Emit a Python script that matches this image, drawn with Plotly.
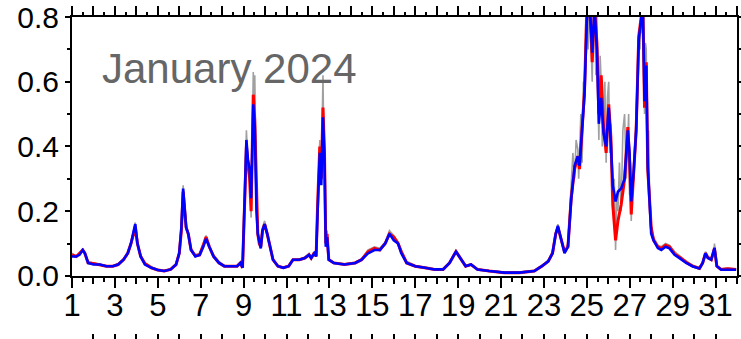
import plotly.graph_objects as go

# Time in days of January 2024 (1 = 00:00 on Jan 1, 32 = 00:00 on Feb 1)
t = [1.0, 1.2, 1.35, 1.5, 1.6, 1.75, 2.0, 2.3, 2.6, 2.9,
     3.15, 3.4, 3.6, 3.75, 3.88, 3.95, 4.05, 4.2, 4.4, 4.7,
     5.0, 5.3, 5.6, 5.85, 6.0, 6.1, 6.18, 6.25, 6.32, 6.42,
     6.55, 6.75, 6.95, 7.12, 7.25, 7.4, 7.6, 7.85, 8.1, 8.4,
     8.7, 8.85, 8.95, 9.06, 9.13, 9.2, 9.28, 9.35, 9.45, 9.52,
     9.6, 9.66, 9.73, 9.8, 9.88, 9.98, 10.1, 10.22, 10.37, 10.6,
     10.85, 11.1, 11.3, 11.6, 11.85, 12.05, 12.15, 12.3, 12.38, 12.45,
     12.55, 12.62, 12.7, 12.77, 12.83, 12.89, 12.97, 13.2, 13.7, 14.2,
     14.5, 14.8, 15.1, 15.35, 15.6, 15.8, 16.0, 16.2, 16.35, 16.6,
     17.0, 17.45, 17.9, 18.3, 18.6, 18.9, 19.15, 19.35, 19.6, 19.9,
     20.45, 21.15, 21.85, 22.55, 22.9, 23.2, 23.4, 23.55, 23.65, 23.8,
     23.96, 24.12, 24.27, 24.43, 24.58, 24.66, 24.78, 24.89, 25.0, 25.12,
     25.25, 25.36, 25.47, 25.56, 25.67, 25.78, 25.9, 26.02, 26.12, 26.21,
     26.34, 26.45, 26.6, 26.76, 26.91, 26.99, 27.07, 27.18, 27.3, 27.42,
     27.53, 27.61, 27.69, 27.77, 27.84, 27.92, 28.0, 28.11, 28.31, 28.47,
     28.67, 28.85, 29.09, 29.32, 29.63, 29.94, 30.25, 30.4, 30.53, 30.64,
     30.8, 30.95, 31.06, 31.26, 31.57, 31.96]

blue = [0.06, 0.06, 0.065, 0.08, 0.07, 0.04, 0.035, 0.035, 0.03, 0.03,
        0.035, 0.05, 0.07, 0.1, 0.14, 0.16, 0.1, 0.06, 0.035, 0.025,
        0.018, 0.015, 0.02, 0.035, 0.07, 0.15, 0.27, 0.2, 0.15, 0.13,
        0.08, 0.06, 0.065, 0.09, 0.115, 0.09, 0.06, 0.04, 0.03, 0.03,
        0.03, 0.04, 0.025, 0.26, 0.42, 0.36, 0.33, 0.24, 0.53, 0.46,
        0.2, 0.13, 0.1, 0.085, 0.14, 0.16, 0.13, 0.09, 0.05, 0.03,
        0.025, 0.03, 0.05, 0.05, 0.055, 0.065, 0.055, 0.07, 0.06, 0.2,
        0.38, 0.28, 0.49, 0.36, 0.09, 0.12, 0.05, 0.04, 0.035, 0.04,
        0.05, 0.07, 0.08, 0.08, 0.1, 0.13, 0.11, 0.1, 0.07, 0.04,
        0.03, 0.025, 0.02, 0.02, 0.04, 0.075, 0.05, 0.03, 0.035, 0.02,
        0.015, 0.01, 0.01, 0.015, 0.03, 0.045, 0.07, 0.13, 0.155, 0.11,
        0.07, 0.09, 0.235, 0.34, 0.37, 0.34, 0.46, 0.56, 0.79, 0.86,
        0.69, 0.83, 0.7, 0.47, 0.55, 0.44, 0.4, 0.52, 0.41, 0.28,
        0.23, 0.26, 0.27, 0.3, 0.45, 0.38, 0.23, 0.32, 0.45, 0.73,
        0.79, 0.84, 0.54, 0.65, 0.34, 0.24, 0.13, 0.11, 0.086, 0.08,
        0.09, 0.085, 0.065, 0.055, 0.04, 0.029, 0.023, 0.04, 0.07, 0.055,
        0.05, 0.087, 0.03, 0.019, 0.02, 0.019]

red = [0.065, 0.06, 0.07, 0.08, 0.07, 0.04, 0.038, 0.035, 0.03, 0.03,
       0.035, 0.05, 0.07, 0.1, 0.13, 0.15, 0.1, 0.06, 0.038, 0.025,
       0.018, 0.015, 0.02, 0.035, 0.07, 0.14, 0.26, 0.2, 0.15, 0.13,
       0.08, 0.062, 0.065, 0.095, 0.12, 0.09, 0.06, 0.04, 0.03, 0.03,
       0.03, 0.04, 0.025, 0.25, 0.4, 0.35, 0.3, 0.2, 0.56, 0.48,
       0.22, 0.13, 0.1, 0.09, 0.14, 0.16, 0.13, 0.09, 0.05, 0.03,
       0.025, 0.03, 0.05, 0.05, 0.055, 0.065, 0.055, 0.072, 0.06, 0.22,
       0.4, 0.3, 0.52, 0.38, 0.1, 0.13, 0.05, 0.04, 0.035, 0.04,
       0.05, 0.075, 0.085, 0.08, 0.1, 0.13, 0.12, 0.1, 0.075, 0.04,
       0.03, 0.025, 0.02, 0.02, 0.04, 0.075, 0.05, 0.03, 0.035, 0.02,
       0.015, 0.01, 0.01, 0.015, 0.03, 0.045, 0.07, 0.13, 0.15, 0.11,
       0.075, 0.09, 0.24, 0.33, 0.37, 0.33, 0.45, 0.57, 0.82, 0.86,
       0.66, 0.83, 0.72, 0.5, 0.62, 0.46, 0.38, 0.53, 0.43, 0.22,
       0.11, 0.17, 0.22, 0.3, 0.46, 0.36, 0.19, 0.3, 0.45, 0.74,
       0.8, 0.84, 0.52, 0.66, 0.33, 0.25, 0.15, 0.11, 0.09, 0.085,
       0.095, 0.09, 0.068, 0.058, 0.042, 0.03, 0.023, 0.04, 0.07, 0.057,
       0.05, 0.085, 0.03, 0.02, 0.022, 0.02]

# Higher-resolution series, so it has its own time axis
gray_t = [1.0, 1.2, 1.35, 1.5, 1.6, 1.75, 2.0, 2.3, 2.6, 2.9,
          3.15, 3.4, 3.6, 3.75, 3.88, 3.95, 4.05, 4.2, 4.4, 4.7,
          5.0, 5.3, 5.6, 5.85, 6.0, 6.1, 6.18, 6.25, 6.32, 6.42,
          6.55, 6.75, 6.95, 7.12, 7.25, 7.4, 7.6, 7.85, 8.1, 8.4,
          8.7, 8.85, 8.95, 9.06, 9.13, 9.2, 9.28, 9.35, 9.4, 9.45, 9.48, 9.52,
          9.6, 9.66, 9.73, 9.8, 9.88, 9.98, 10.1, 10.22, 10.37, 10.6,
          10.85, 11.1, 11.3, 11.6, 11.85, 12.05, 12.15, 12.3, 12.38, 12.45,
          12.55, 12.62, 12.68, 12.7, 12.74, 12.77, 12.83, 12.89, 12.97, 13.2, 13.7, 14.2,
          14.5, 14.8, 15.1, 15.35, 15.6, 15.8, 16.0, 16.2, 16.35, 16.6,
          17.0, 17.45, 17.9, 18.3, 18.6, 18.9, 19.15, 19.35, 19.6, 19.9,
          20.45, 21.15, 21.85, 22.55, 22.9, 23.2, 23.4, 23.55, 23.65, 23.8,
          23.96, 24.12, 24.27, 24.35, 24.43, 24.5, 24.58, 24.62, 24.66, 24.72,
          24.78, 24.84, 24.89, 24.95, 25.0, 25.06, 25.12, 25.18, 25.25, 25.3,
          25.36, 25.42, 25.47, 25.52, 25.56, 25.62, 25.67, 25.72, 25.78, 25.84,
          25.9, 25.96, 26.02, 26.07, 26.12, 26.17, 26.21, 26.28, 26.34, 26.4,
          26.45, 26.52, 26.6, 26.68, 26.76, 26.84, 26.91, 26.95, 26.99, 27.03,
          27.07, 27.12, 27.18, 27.24, 27.3, 27.36, 27.42, 27.48, 27.53, 27.57,
          27.61, 27.65, 27.69, 27.73, 27.77, 27.8, 27.84, 27.88, 27.92, 28.0,
          28.11, 28.31, 28.47, 28.67, 28.85, 29.09, 29.32, 29.63, 29.94, 30.25,
          30.4, 30.53, 30.64, 30.8, 30.92, 30.95, 31.06, 31.26, 31.57, 31.96]

gray = [0.07, 0.06, 0.07, 0.085, 0.07, 0.045, 0.04, 0.035, 0.032, 0.03,
        0.038, 0.05, 0.075, 0.1, 0.14, 0.165, 0.1, 0.065, 0.04, 0.028,
        0.02, 0.016, 0.022, 0.037, 0.075, 0.15, 0.28, 0.2, 0.16, 0.13,
        0.085, 0.065, 0.07, 0.1, 0.125, 0.09, 0.065, 0.045, 0.033, 0.03,
        0.032, 0.042, 0.025, 0.26, 0.45, 0.35, 0.3, 0.18, 0.4, 0.63, 0.45, 0.62,
        0.22, 0.13, 0.1, 0.09, 0.15, 0.17, 0.13, 0.09, 0.05, 0.032,
        0.027, 0.032, 0.05, 0.052, 0.058, 0.07, 0.058, 0.075, 0.06, 0.22,
        0.42, 0.3, 0.5, 0.62, 0.4, 0.4, 0.1, 0.14, 0.05, 0.042, 0.037, 0.042,
        0.052, 0.08, 0.09, 0.085, 0.105, 0.14, 0.125, 0.105, 0.08, 0.045,
        0.032, 0.027, 0.022, 0.022, 0.042, 0.08, 0.052, 0.032, 0.037, 0.022,
        0.016, 0.012, 0.012, 0.017, 0.032, 0.048, 0.075, 0.13, 0.16, 0.11,
        0.075, 0.1, 0.26, 0.38, 0.3, 0.42, 0.39, 0.3, 0.38, 0.5,
        0.35, 0.6, 0.55, 0.8, 0.82, 0.7, 0.9, 0.75, 0.6, 0.8,
        0.85, 0.62, 0.8, 0.55, 0.42, 0.68, 0.6, 0.4, 0.5, 0.6,
        0.35, 0.55, 0.6, 0.38, 0.47, 0.3, 0.2, 0.3, 0.08, 0.25,
        0.2, 0.35, 0.2, 0.45, 0.5, 0.3, 0.4, 0.5, 0.25, 0.35,
        0.17, 0.28, 0.3, 0.4, 0.46, 0.6, 0.76, 0.7, 0.82, 0.75,
        0.86, 0.6, 0.5, 0.72, 0.7, 0.45, 0.3, 0.45, 0.27, 0.15,
        0.12, 0.095, 0.09, 0.1, 0.095, 0.075, 0.062, 0.046, 0.033, 0.026,
        0.042, 0.075, 0.06, 0.055, 0.07, 0.1, 0.032, 0.022, 0.024, 0.021]

# Tick positions
label_days = list(range(1, 32, 2))
even_days = list(range(2, 33, 2))
all_days = list(range(1, 33))
y_ticks = [0.0, 0.2, 0.4, 0.6, 0.8]

FONT = "Liberation Sans, Arial, sans-serif"
X_RANGE = [1, 32]

fig = go.Figure()
fig.add_trace(go.Scatter(x=gray_t, y=gray, mode="lines",
                         line=dict(color="#a0a0a0", width=1.6), showlegend=False))
fig.add_trace(go.Scatter(x=t, y=red, mode="lines",
                         line=dict(color="#ff0000", width=3), showlegend=False))
fig.add_trace(go.Scatter(x=t, y=blue, mode="lines",
                         line=dict(color="#0000ff", width=2.6), showlegend=False))

# empty traces so the extra tick axes are drawn
for ax in ["x2", "x3", "x4"]:
    fig.add_trace(go.Scatter(x=[], y=[], xaxis=ax, yaxis="y",
                             showlegend=False, hoverinfo="skip"))

fig.add_annotation(x=2.3, y=0.64, xref="x", yref="y", text="January 2024",
                   showarrow=False, xanchor="left", yanchor="middle",
                   font=dict(family=FONT, size=42, color="#666666"))

common = dict(range=X_RANGE, showgrid=False, zeroline=False, automargin=False)

fig.update_layout(
    template="none",
    width=741, height=339,
    margin=dict(l=72, r=4, t=17, b=0, pad=0, autoexpand=False),
    paper_bgcolor="white", plot_bgcolor="white",
    font=dict(family=FONT, color="black"),
    xaxis=dict(**common, tickvals=label_days, ticktext=[str(d) for d in label_days],
               ticks="outside", ticklen=10, tickwidth=2, tickcolor="black",
               showline=True, linewidth=2, linecolor="black", mirror=True,
               tickfont=dict(size=31), ticklabelstandoff=-9,
               minor=dict(tick0=1, dtick=0.5, ticks="outside", ticklen=4,
                          tickwidth=2, tickcolor="black", showgrid=False)),
    xaxis2=dict(**common, overlaying="x", anchor="y", side="top",
                tickvals=all_days, ticks="outside", ticklen=10, tickwidth=2,
                tickcolor="black", showticklabels=False, showline=False,
                minor=dict(tick0=1, dtick=0.5, ticks="outside", ticklen=4,
                           tickwidth=2, tickcolor="black", showgrid=False)),
    xaxis3=dict(**common, overlaying="x", anchor="y", side="bottom",
                tickvals=even_days, ticks="outside", ticklen=7, tickwidth=2,
                tickcolor="black", showticklabels=False, showline=False),
    xaxis4=dict(**common, overlaying="x", anchor="free", position=0,
                side="bottom", tickvals=all_days, ticks="inside", ticklen=5,
                tickwidth=2, tickcolor="black", showticklabels=False,
                showline=False),
    yaxis=dict(range=[0, 0.8], domain=[0.196, 1], tickvals=y_ticks,
               ticktext=["%.1f" % v for v in y_ticks], automargin=False,
               ticks="outside", ticklen=5, tickwidth=2, tickcolor="black",
               showline=True, linewidth=2, linecolor="black", mirror="ticks",
               showgrid=False, zeroline=False, tickfont=dict(size=30),
               minor=dict(tick0=0.1, dtick=0.2, ticks="outside", ticklen=3,
                          tickwidth=2, tickcolor="black", showgrid=False)),
)

fig.write_html("out.html")
